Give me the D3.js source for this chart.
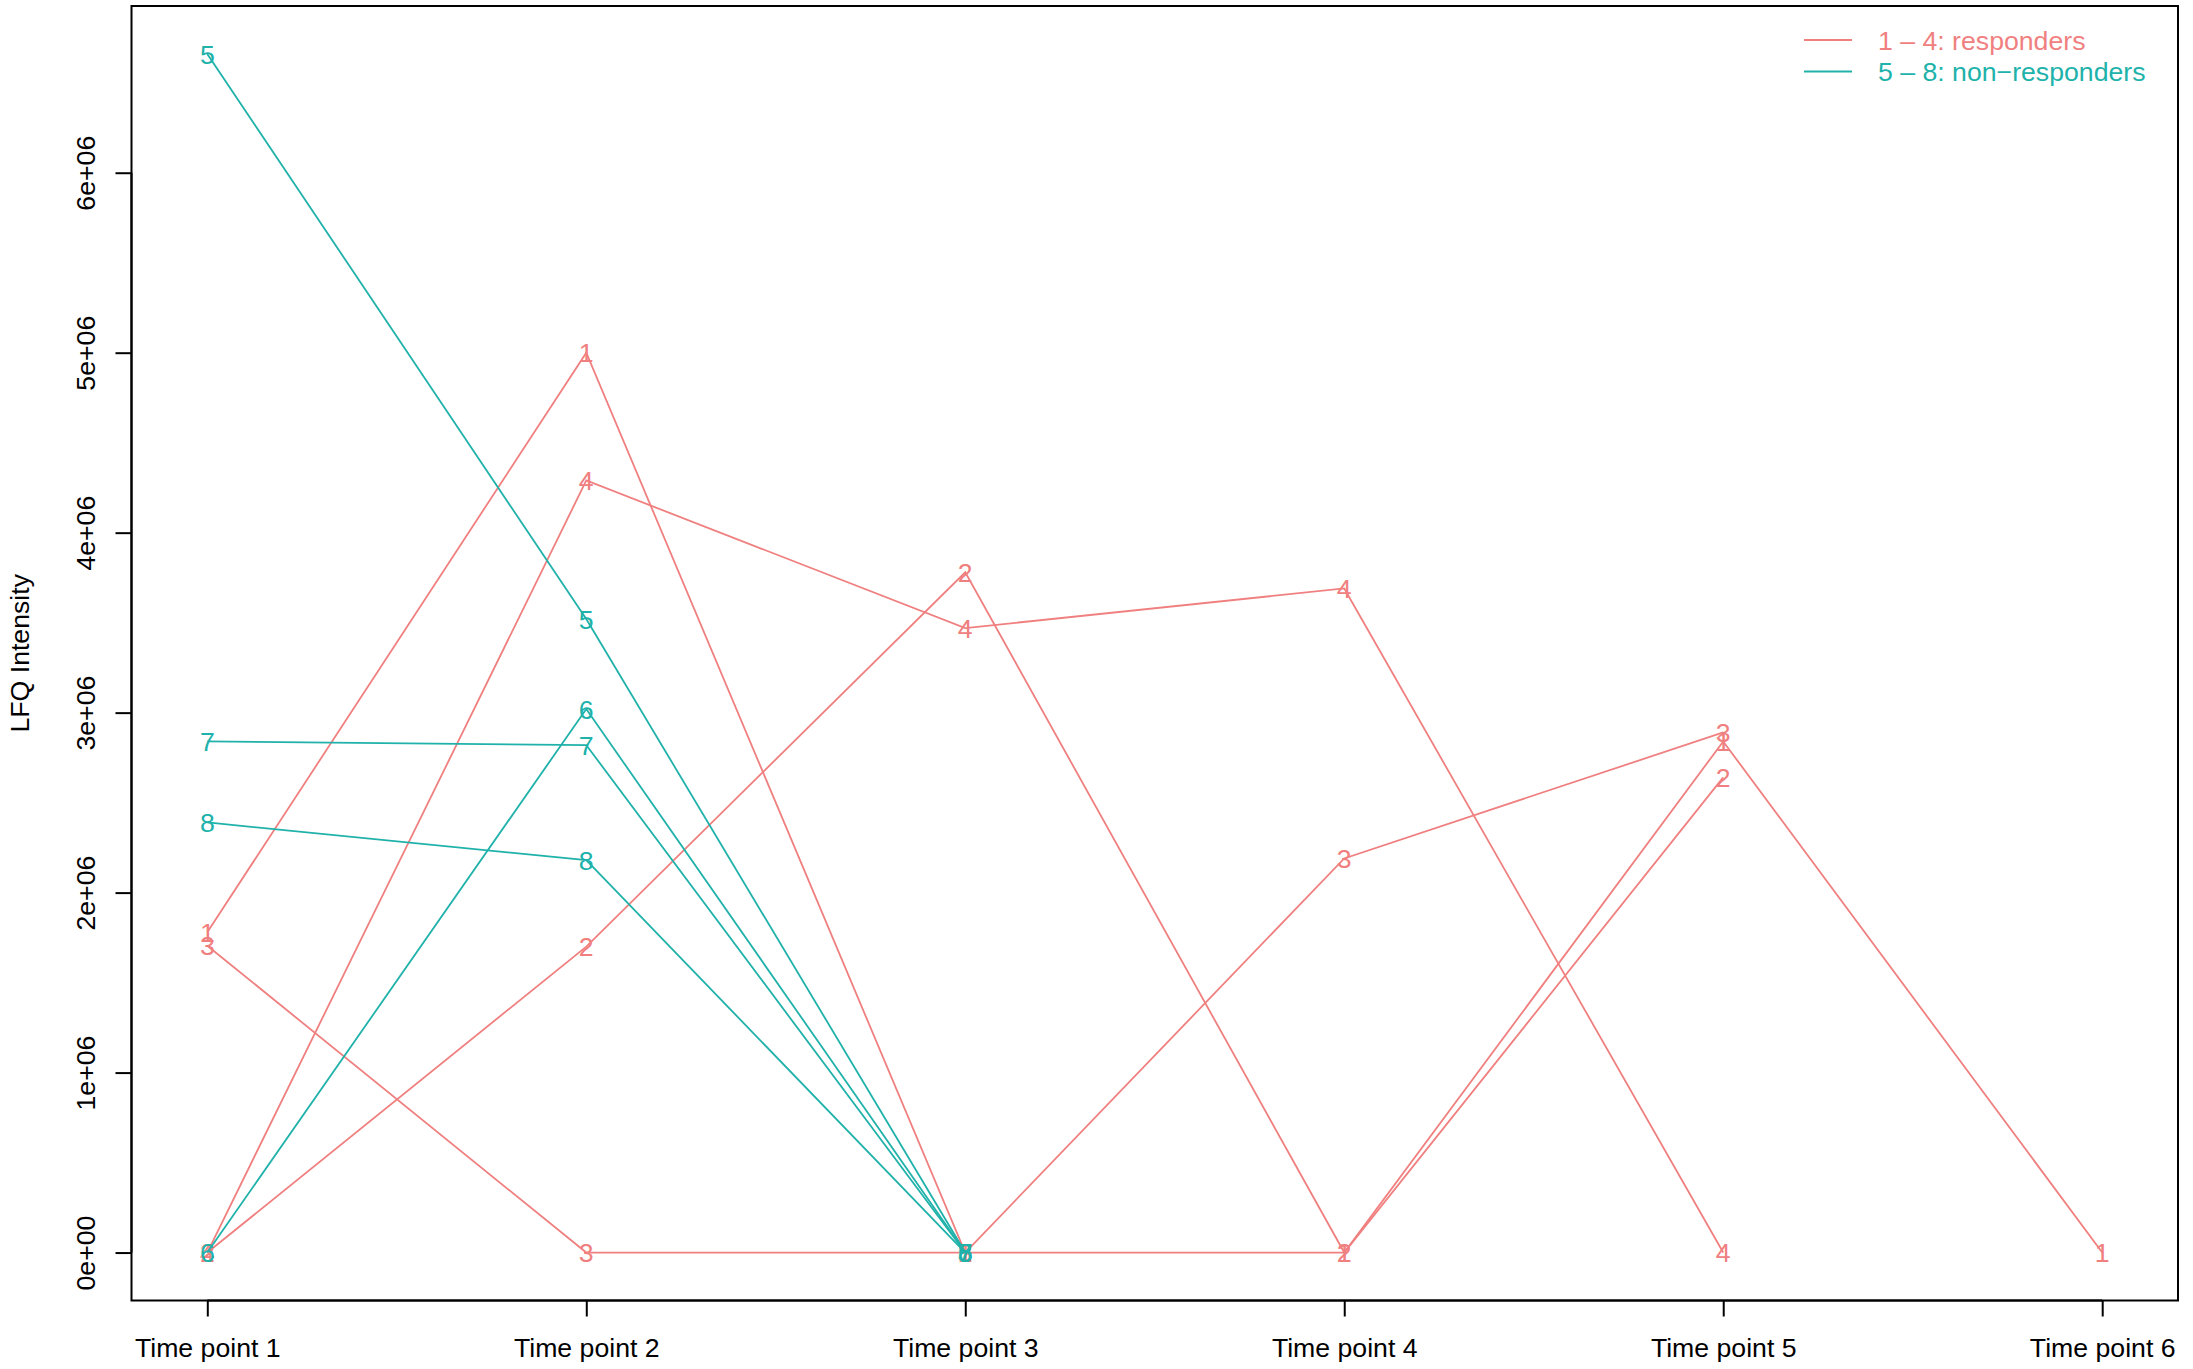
<!DOCTYPE html>
<html>
<head>
<meta charset="utf-8">
<script src="https://cdn.jsdelivr.net/npm/d3@7"></script>
<style>
  html, body { margin: 0; padding: 0; background: #fff; }
  svg { display: block; }
  text { font-family: "Liberation Sans", Arial, Helvetica, sans-serif; }
</style>
</head>
<body>
<svg id="chart" width="2193" height="1369"></svg>
<script>
// ---- data ----
const timePoints = ["Time point 1", "Time point 2", "Time point 3", "Time point 4", "Time point 5", "Time point 6"];
const seriesNames = ["1", "2", "3", "4", "5", "6", "7", "8"];
const s1 = [1780000, 5000000, 0, 0, 2840000, 0];
const s2 = [0, 1700000, 3780000, 0, 2640000, null];
const s3 = [1705000, 0, 0, 2190000, 2890000, null];
const s4 = [0, 4290000, 3470000, 3690000, 0, null];
const s5 = [6660000, 3520000, 0, null, null, null];
const s6 = [0, 3020000, 0, null, null, null];
const s7 = [2840000, 2820000, 0, null, null, null];
const s8 = [2390000, 2180000, 0, null, null, null];
const seriesValues = [s1, s2, s3, s4, s5, s6, s7, s8];
const seriesGroup = [0, 0, 0, 0, 1, 1, 1, 1];
const groupColors = ["#F08080", "#20B2AA"];
const legendLabels = ["1 \u2013 4: responders", "5 \u2013 8: non\u2212responders"];
const yTicks = [0, 1e6, 2e6, 3e6, 4e6, 5e6, 6e6];
const yTickLabels = ["0e+00", "1e+06", "2e+06", "3e+06", "4e+06", "5e+06", "6e+06"];
const yTitle = "LFQ Intensity";

// ---- layout ----
const FS = 26.67;
const L = 131.5, R = 2178, T = 6, B = 1300.5;
const svg = d3.select("#chart");

// R-style 4% axis extension
const allVals = seriesValues.flat().filter(v => v !== null);
const yMin = d3.min(allVals), yMax = d3.max(allVals);
const yPad = (yMax - yMin) * 0.04;
const xPad = (timePoints.length - 1) * 0.04;

const x = d3.scaleLinear().domain([1 - xPad, timePoints.length + xPad]).range([L, R]);
const y = d3.scaleLinear().domain([yMin - yPad, yMax + yPad]).range([B, T]);

// series lines + labels
const line = d3.line()
  .defined(d => d.v !== null)
  .x(d => x(d.i + 1))
  .y(d => y(d.v));

seriesValues.forEach((vals, si) => {
  const col = groupColors[seriesGroup[si]];
  const pts = vals.map((v, i) => ({ v, i }));
  svg.append("path")
    .attr("d", line(pts))
    .attr("fill", "none")
    .attr("stroke", col)
    .attr("stroke-width", 1.8);
  svg.append("g").selectAll("text")
    .data(pts.filter(d => d.v !== null))
    .join("text")
    .attr("x", d => x(d.i + 1))
    .attr("y", d => y(d.v))
    .attr("dy", "0.36em")
    .attr("text-anchor", "middle")
    .attr("font-size", FS)
    .attr("fill", col)
    .text(seriesNames[si]);
});

// box
svg.append("rect")
  .attr("x", L).attr("y", T)
  .attr("width", R - L).attr("height", B - T)
  .attr("fill", "none").attr("stroke", "#000").attr("stroke-width", 2);

// x axis
const xAxis = d3.axisBottom(x)
  .tickValues(timePoints.map((d, i) => i + 1))
  .tickFormat((d, i) => timePoints[i])
  .tickSize(16).tickPadding(0);
const gx = svg.append("g").attr("transform", `translate(0,${B})`).call(xAxis);
gx.select(".domain").attr("d", `M${x(1)},0H${x(timePoints.length)}`).attr("stroke-width", 2);
gx.selectAll(".tick line").attr("stroke-width", 2);
gx.selectAll(".tick text")
  .attr("font-size", FS).attr("fill", "#000")
  .attr("font-family", "Liberation Sans, Arial, sans-serif")
  .attr("dy", null).attr("y", 56);

// y axis
const yAxis = d3.axisLeft(y)
  .tickValues(yTicks)
  .tickFormat((d, i) => yTickLabels[i])
  .tickSize(16);
const gy = svg.append("g").attr("transform", `translate(${L},0)`).call(yAxis);
gy.select(".domain").attr("d", `M0,${y(yTicks[0])}V${y(yTicks[yTicks.length - 1])}`).attr("stroke-width", 2);
gy.selectAll(".tick line").attr("stroke-width", 2);
gy.selectAll(".tick text")
  .attr("font-size", FS).attr("fill", "#000")
  .attr("font-family", "Liberation Sans, Arial, sans-serif")
  .attr("x", null).attr("dy", null)
  .attr("text-anchor", "middle")
  .attr("transform", "translate(-37,0) rotate(-90)");

// y title
svg.append("text")
  .attr("transform", `translate(29,${(T + B) / 2}) rotate(-90)`)
  .attr("text-anchor", "middle")
  .attr("font-size", FS)
  .attr("fill", "#000")
  .text(yTitle);

// legend
const lg = svg.append("g");
legendLabels.forEach((lab, i) => {
  const ly = 40 + i * 31.5;
  lg.append("line")
    .attr("x1", 1804).attr("x2", 1852)
    .attr("y1", ly).attr("y2", ly)
    .attr("stroke", groupColors[i]).attr("stroke-width", 1.8);
  lg.append("text")
    .attr("x", 1878).attr("y", ly).attr("dy", "0.36em")
    .attr("font-size", FS)
    .attr("fill", groupColors[i])
    .text(lab);
});
</script>
</body>
</html>
